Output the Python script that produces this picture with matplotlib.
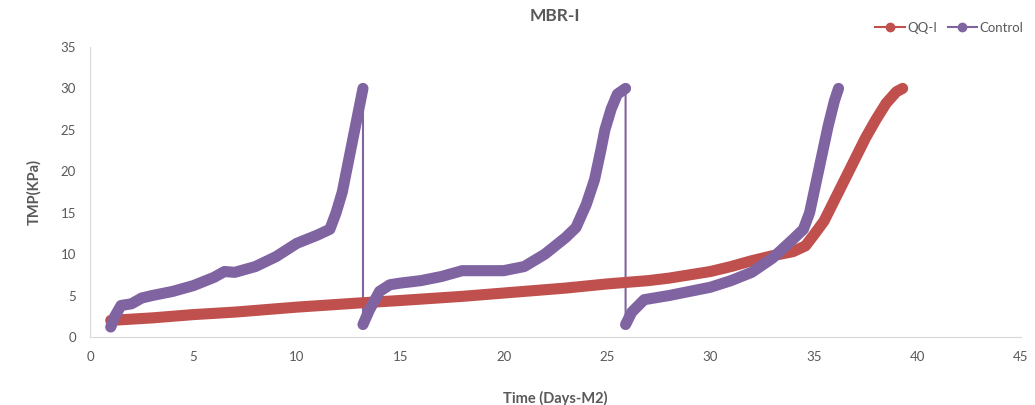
import matplotlib
matplotlib.use("Agg")
import matplotlib.pyplot as plt
from matplotlib.lines import Line2D

plt.rcParams['font.family'] = ['Lato', 'DejaVu Sans']

# QQ-I series (days, TMP kPa)
qq_days = [1.0, 3, 5, 7, 10, 13, 15, 18, 20, 23, 25, 27, 28, 30, 31, 32, 33, 34, 34.6,
           35.0, 35.5, 36.0, 36.5, 37.0, 37.5, 38.0, 38.5, 39.0, 39.3]
qq_tmp = [2.0, 2.3, 2.7, 3.0, 3.6, 4.1, 4.4, 4.9, 5.3, 5.9, 6.4, 6.8, 7.1, 7.9, 8.5, 9.2, 9.8,
          10.3, 11.0, 12.3, 14.0, 16.5, 19.0, 21.5, 24.0, 26.2, 28.2, 29.6, 30.0]

# Control series, three filtration cycles
ctrl1_days = [1.0, 1.2, 1.5, 2.0, 2.5, 3.0, 4.0, 5.0, 6.0, 6.5, 7.0, 8.0, 9.0, 10.0, 11.0,
              11.6, 11.9, 12.2, 12.4, 12.6, 12.8, 13.0, 13.2]
ctrl1_tmp = [1.2, 2.5, 3.8, 4.0, 4.7, 5.0, 5.5, 6.2, 7.2, 7.9, 7.8, 8.5, 9.7, 11.3, 12.3,
             13.0, 15.0, 17.5, 20.0, 22.5, 25.0, 27.5, 30.0]
ctrl2_days = [13.2, 13.5, 14.0, 14.5, 15.0, 16.0, 17.0, 18.0, 19.0, 20.0, 21.0, 22.0, 23.0,
              23.5, 24.0, 24.4, 24.7, 24.9, 25.2, 25.5, 25.9]
ctrl2_tmp = [1.5, 3.2, 5.5, 6.3, 6.5, 6.8, 7.3, 8.0, 8.0, 8.0, 8.5, 10.0, 12.0, 13.2, 16.0,
             19.0, 22.5, 25.0, 27.5, 29.3, 30.0]
ctrl3_days = [25.9, 26.2, 26.8, 28.0, 30.0, 31.0, 32.0, 33.0, 34.0, 34.5, 34.8, 35.1, 35.4,
              35.7, 36.0, 36.2]
ctrl3_tmp = [1.5, 3.0, 4.5, 5.0, 6.0, 6.8, 7.8, 9.5, 11.8, 13.0, 15.0, 18.5, 22.0, 25.5, 28.5, 30.0]

red = "#C0504D"
purple = "#8064A2"
grey = "#595959"

fig = plt.figure(figsize=(10.35, 4.05), dpi=100)
ax = fig.add_axes([0.087, 0.168, 0.899, 0.716])

# thin connecting line for the whole Control series (shows the vertical drops)
ax.plot(ctrl1_days + ctrl2_days + ctrl3_days, ctrl1_tmp + ctrl2_tmp + ctrl3_tmp,
        color=purple, lw=1.5, zorder=2)
# thick bands (dense markers in the original)
ax.plot(qq_days, qq_tmp, color=red, lw=8, solid_capstyle="round", solid_joinstyle="round", zorder=3)
for d, t in [(ctrl1_days, ctrl1_tmp), (ctrl2_days, ctrl2_tmp), (ctrl3_days, ctrl3_tmp)]:
    ax.plot(d, t, color=purple, lw=8, solid_capstyle="round", solid_joinstyle="round", zorder=4)

ax.set_xlim(0, 45)
ax.set_ylim(0, 35)
ax.set_xticks(range(0, 46, 5))
ax.set_yticks(range(0, 36, 5))
ax.tick_params(length=0, colors=grey, labelsize=9.5, pad=10)
for s in ["top", "right"]:
    ax.spines[s].set_visible(False)
for s in ["left", "bottom"]:
    ax.spines[s].set_color("#D9D9D9")

ax.set_title("MBR-I", color=grey, fontsize=12.5, fontweight="bold", pad=19)
ax.set_ylabel("TMP(KPa)", color=grey, fontsize=10.5, fontweight="bold", labelpad=14)
ax.set_xlabel("Time (Days-M2)", color=grey, fontsize=10.5, fontweight="bold", labelpad=20)

handles = [Line2D([], [], color=red, marker="o", markersize=6, lw=1.5, label="QQ-I"),
           Line2D([], [], color=purple, marker="o", markersize=6, lw=1.5, label="Control")]
leg = fig.legend(handles=handles, loc="upper right", bbox_to_anchor=(1.0, 0.975), ncol=2,
                 frameon=False, fontsize=9.5, handlelength=2.2, columnspacing=0.8, handletextpad=0.2)
for t in leg.get_texts():
    t.set_color(grey)

fig.savefig("out.png", dpi=100)
